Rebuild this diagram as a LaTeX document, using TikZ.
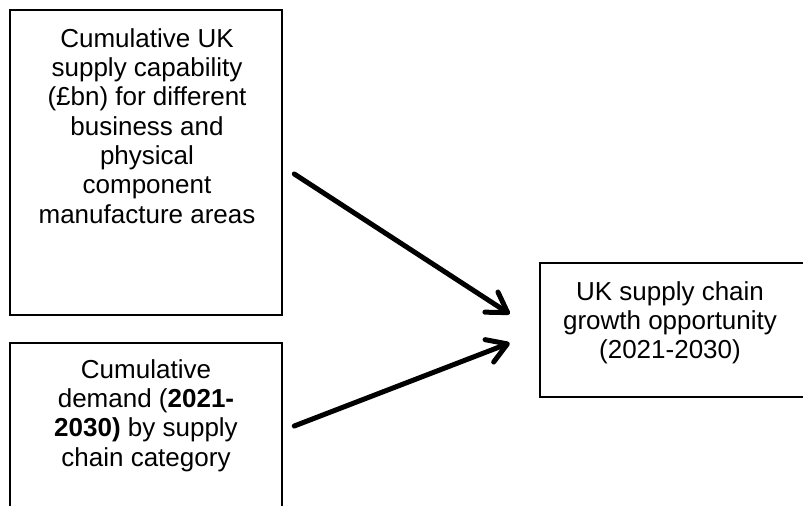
\documentclass[tikz,border=0pt]{standalone}
\usepackage{fontspec}
\setmainfont{Liberation Sans}
\usetikzlibrary{arrows.meta}
\begin{document}
\begin{tikzpicture}[x=0.75pt, y=-0.75pt,
  frame/.style={draw=black, line width=1.9pt, inner sep=0pt},
  boxtext/.style={font=\fontsize{19.5}{22}\selectfont, align=center, inner sep=0pt, anchor=north},
  flow/.style={line width=3.75pt, line cap=round, line join=round,
    -{Straight Barb[length=14.5pt, width=18pt, line cap=round, line join=round]}}]
  \useasboundingbox (0,0) rectangle (803,506);

  % boxes
  \node[frame, minimum width=204pt, minimum height=228.75pt] (cap) at (146,162.5) {};
  \node[frame, minimum width=204pt, minimum height=135pt] (dem) at (146,433) {};
  \node[frame, minimum width=204pt, minimum height=100.5pt] (grow) at (676,330) {};

  % box texts
  \node[boxtext] (capt) at (147,28) {Cumulative UK\\supply capability\\(£bn) for different\\business and\\physical\\component\\manufacture areas};
  \node[boxtext] (demt) at (146,359) {Cumulative\\demand (\textbf{2021-}\\\textbf{2030)} by supply\\chain category};
  \node[boxtext] (growt) at (670,281) {UK supply chain\\growth opportunity\\(2021-2030)};

  % connectors
  \draw[flow] ([xshift=8.25pt, yshift=-8.6pt]cap.east) -- ([xshift=-21.75pt, yshift=12pt]grow.west);
  \draw[flow] ([xshift=8.25pt, yshift=5.25pt]dem.east) -- ([xshift=-21.75pt, yshift=-9.75pt]grow.west);
\end{tikzpicture}
\end{document}
